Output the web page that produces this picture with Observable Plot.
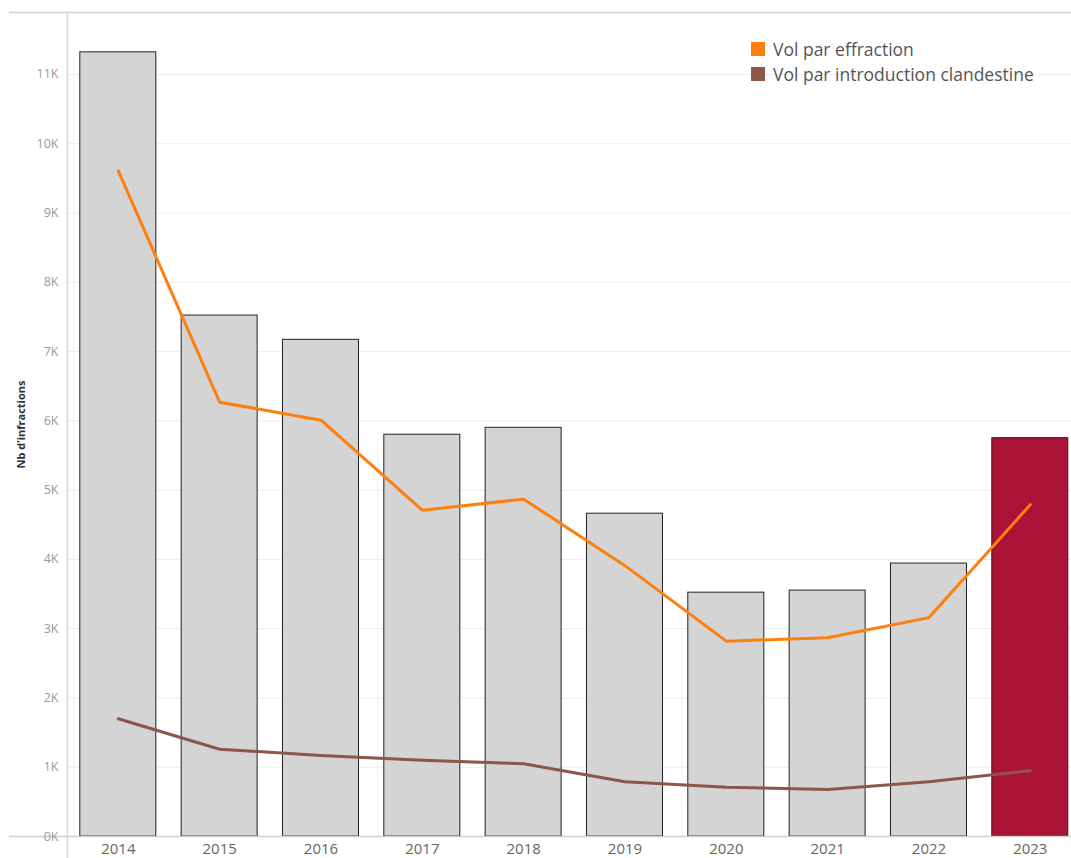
<!DOCTYPE html>
<html><head><meta charset="utf-8">
<script src="https://cdn.jsdelivr.net/npm/d3@7"></script>
<script src="https://cdn.jsdelivr.net/npm/@observablehq/plot@0.6"></script>
<style>
body{margin:0;background:#fff;font-family:"Open Sans",sans-serif;}
#wrap{position:relative;width:1071px;height:858px;}
#legend{position:absolute;left:751px;top:36px;font-size:17.5px;color:#555;}
#legend div{display:flex;align-items:center;height:25.5px;}
#legend span.sw{display:inline-block;width:14px;height:14px;margin-right:8px;}
</style></head>
<body><div id="wrap"><div id="legend"></div></div>
<script>
const years = ["2014","2015","2016","2017","2018","2019","2020","2021","2022","2023"];
const totals = [11320, 7520, 7170, 5800, 5900, 4660, 3520, 3550, 3940, 5750];
const effraction = [9610, 6270, 6010, 4710, 4870, 3910, 2820, 2870, 3160, 4790];
const clandestine = [1700, 1260, 1170, 1100, 1050, 790, 710, 680, 790, 950];
const seriesNames = ["Vol par effraction", "Vol par introduction clandestine"];
const seriesColors = ["#fd7f0e", "#8c564b"];
const yTicks = [0,1000,2000,3000,4000,5000,6000,7000,8000,9000,10000,11000];

const bars = years.map((y,i)=>({year:y, value:totals[i], current: y==="2023"}));
const lines = [];
years.forEach((y,i)=>lines.push({year:y, value:effraction[i], serie:seriesNames[0]}));
years.forEach((y,i)=>lines.push({year:y, value:clandestine[i], serie:seriesNames[1]}));

const chart = Plot.plot({
  width:1071, height:858,
  marginLeft:67, marginRight:0, marginTop:12, marginBottom:22,
  style:{fontFamily:"Open Sans, sans-serif", background:"#fff"},
  x:{domain:years, paddingInner:0.25, paddingOuter:0.079, align:0.8, round:false, label:null},
  y:{domain:[0,11895], label:null},
  color:{domain:seriesNames, range:seriesColors},
  marks:[
    Plot.gridY(yTicks,{stroke:"#ececec", strokeOpacity:1}),
    Plot.ruleY([11895],{stroke:"#d0d0d0", strokeWidth:1.5, insetLeft:-58}),
    Plot.barY(bars,{x:"year", y:"value", fill:d=>d.current?"#ab1238":"#d4d4d4", stroke:"#222", strokeWidth:1}),
    Plot.line(lines,{x:"year", y:"value", z:"serie", stroke:"serie", strokeWidth:3}),
    Plot.ruleY([0],{stroke:"#d0d0d0", strokeWidth:1.5, insetLeft:-58}),
    Plot.frame({anchor:"left", stroke:"#d8d8d8", strokeWidth:1.5, insetBottom:-22}),
    Plot.axisY(yTicks,{tickSize:0, tickPadding:9, tickFormat:d=>(d/1000)+"K", fill:"#999", fontSize:12.5,
      label:"Nb d’infractions", labelAnchor:"center", labelArrow:"none", labelOffset:50}),
    Plot.axisX({tickSize:0, tickPadding:7, fill:"#666", fontSize:15, label:null})
  ]
});
chart.querySelectorAll("g[aria-label='y-axis label'] text").forEach(t=>{
  t.setAttribute("font-size","11"); t.setAttribute("font-weight","bold"); t.setAttribute("fill","#333");
});
document.getElementById("wrap").prepend(chart);

const leg = document.getElementById("legend");
seriesNames.forEach((n,i)=>{
  const d=document.createElement("div");
  d.innerHTML=`<span class="sw" style="background:${seriesColors[i]}"></span>${n}`;
  leg.appendChild(d);
});
</script></body></html>
